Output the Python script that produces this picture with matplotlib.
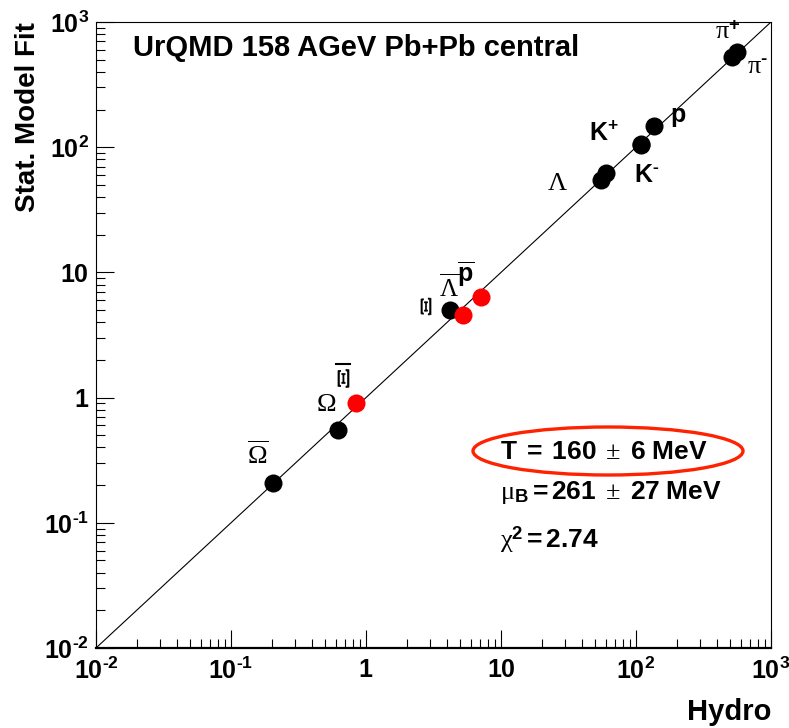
import matplotlib
matplotlib.use("Agg")
import matplotlib.pyplot as plt
from matplotlib.patches import Ellipse, PathPatch
from matplotlib.lines import Line2D
from matplotlib.transforms import IdentityTransform, Affine2D
from matplotlib.textpath import TextPath
from matplotlib.font_manager import FontProperties

plt.rcParams["font.family"] = ["Liberation Sans", "DejaVu Sans"]
plt.rcParams["mathtext.fontset"] = "custom"
plt.rcParams["mathtext.rm"] = "Liberation Serif"
plt.rcParams["mathtext.it"] = "Liberation Serif:italic"
plt.rcParams["mathtext.bf"] = "Liberation Sans:bold"

# Particle yields: hydro (x) vs. statistical model fit (y)
black_names = ["pi-", "pi+", "p", "K+", "K-", "Lambda", "Lambda2", "Xi", "Omega", "Omegabar"]
black_hydro = [514, 560, 136, 109, 108, 55, 60, 4.19, 0.621, 0.205]
black_stat = [525, 576, 148, 107, 105, 54.7, 62, 5.01, 0.551, 0.208]

red_names = ["Lambdabar", "pbar", "Xibar"]
red_hydro = [5.24, 7.11, 0.843]
red_stat = [4.57, 6.37, 0.906]

axis_lo, axis_hi = 1e-2, 1e3
tick_vals = [1e-2, 1e-1, 1, 10, 1e2, 1e3]
tick_text = [r"$\mathbf{10^{‐2}}$", r"$\mathbf{10^{‐1}}$", r"$\mathbf{1}$",
             r"$\mathbf{10}$", r"$\mathbf{10^{2}}$", r"$\mathbf{10^{3}}$"]

fit_T = "160"
fit_T_err = "6"
fit_muB = "261"
fit_muB_err = "27"
fit_chi2 = "2.74"

fig = plt.figure(figsize=(7.89, 7.28), dpi=100)
ax = fig.add_axes([96 / 789, 80 / 728, 675 / 789, 626 / 728])
ax.set_xscale("log")
ax.set_yscale("log")
ax.set_xlim(axis_lo, axis_hi)
ax.set_ylim(axis_lo, axis_hi)

# diagonal y = x
ax.plot([axis_lo, axis_hi], [axis_lo, axis_hi], color="black", lw=0.8, zorder=1)

ax.plot(black_hydro, black_stat, "o", color="black", ms=13, mec="none", zorder=3)
ax.plot(red_hydro, red_stat, "o", color="#ff0000", ms=13, mec="none", zorder=4)

ax.set_xticks(tick_vals)
ax.set_xticklabels(tick_text)
ax.set_yticks(tick_vals)
ax.set_yticklabels(tick_text)
ax.tick_params(which="both", direction="in", top=False, right=False, labelsize=18)
ax.tick_params(which="major", length=13, width=0.8)
ax.tick_params(which="minor", length=6.5, width=0.8)
ax.tick_params(axis="x", pad=7)
ax.tick_params(axis="y", pad=5)
for s in ["left", "top", "right"]:
    ax.spines[s].set_linewidth(0.8)
ax.spines["bottom"].set_linewidth(1.6)

ax.set_xlabel("Hydro", fontsize=21, fontweight="bold", loc="right", labelpad=10)
ax.set_ylabel("Stat. Model Fit", fontsize=20, fontweight="bold", loc="top", labelpad=2)

ax.text(37 / 675, 1 - 26 / 626, "UrQMD 158 AGeV Pb+Pb central", transform=ax.transAxes,
        fontsize=21, fontweight="bold", ha="left", va="center")

bx = dict(zip(black_names, zip(black_hydro, black_stat)))
rx = dict(zip(red_names, zip(red_hydro, red_stat)))


def tag(pt, text, dx, dy, size=18, **kw):
    ax.annotate(text, xy=pt, xytext=(dx, dy), textcoords="offset pixels",
                ha="center", va="center", fontsize=size, **kw)


def overbar(pt, dx, dy, half):
    px, py = ax.transData.transform(pt)
    fig.add_artist(Line2D([px + dx - half, px + dx + half], [py + dy, py + dy],
                          transform=IdentityTransform(), color="black", lw=1.5))


def sideways_xi(pt, dx, dy, w, h):
    # Xi glyph turned on its side, fitted into a w x h pixel box
    path = TextPath((0, 0), "Ξ", size=20, prop=FontProperties(family="Liberation Serif"))
    path = Affine2D().rotate_deg(90).transform_path(path)
    ext = path.get_extents()
    px, py = ax.transData.transform(pt)
    tr = (Affine2D()
          .translate(-(ext.x0 + ext.x1) / 2, -(ext.y0 + ext.y1) / 2)
          .scale(w / ext.width, h / ext.height)
          .translate(px + dx, py + dy))
    fig.add_artist(PathPatch(tr.transform_path(path), transform=IdentityTransform(),
                             facecolor="black", edgecolor="black", lw=0.5))


tag(bx["pi+"], r"$\mathrm{\pi}^{\mathbf{+}}$", -9, 20, size=19)
tag(bx["pi-"], r"$\mathrm{\pi}^{\mathbf{‐}}$", 26, -10, size=19)
tag(bx["p"], r"$\mathbf{p}$", 24, 9)
tag(bx["K+"], r"$\mathbf{K^{+}}$", -37, 10)
tag(bx["K-"], r"$\mathbf{K^{‐}}$", 6, -30)
tag(bx["Lambda"], r"$\mathrm{\Lambda}$", -44, -3, size=19)
sideways_xi(bx["Xi"], -24, 3.5, 10, 17)
tag(rx["Lambdabar"], r"$\overline{\mathrm{\Lambda}}$", -14, 27, size=18)
tag(rx["pbar"], r"$\mathbf{\overline{p}}$", -15, 23, size=18)
sideways_xi(rx["Xibar"], -12.5, 24.5, 11, 18)
overbar(rx["Xibar"], -12.5, 39, 7)
tag(bx["Omega"], r"$\mathrm{\Omega}$", -12, 26, size=19)
tag(bx["Omegabar"], r"$\overline{\mathrm{\Omega}}$", -15, 28, size=19)

# fit results
ax.add_patch(Ellipse(((608 - 96) / 675, (648 - 451) / 626), 270 / 675, 48 / 626,
                     transform=ax.transAxes, fill=False, edgecolor="#ff2200", lw=2.4))
ax.text((500 - 96) / 675, (648 - 452) / 626,
        r"$\mathbf{T\ {=}\ " + fit_T + r"}\ \pm\ \mathbf{" + fit_T_err + r"\ MeV}$",
        transform=ax.transAxes, fontsize=19, ha="left", va="center")
ax.text((500 - 96) / 675, (648 - 493) / 626,
        r"$\mathrm{\mu}_{\mathbf{B}}\mathbf{{=}" + fit_muB + r"}\ \pm\ \mathbf{" + fit_muB_err + r"\ MeV}$",
        transform=ax.transAxes, fontsize=19, ha="left", va="center")
ax.text((500 - 96) / 675, (648 - 540) / 626,
        r"$\mathrm{\chi}^{\mathbf{2}}\mathbf{{=}" + fit_chi2 + r"}$",
        transform=ax.transAxes, fontsize=19, ha="left", va="center")

fig.savefig("out.png", dpi=100)
